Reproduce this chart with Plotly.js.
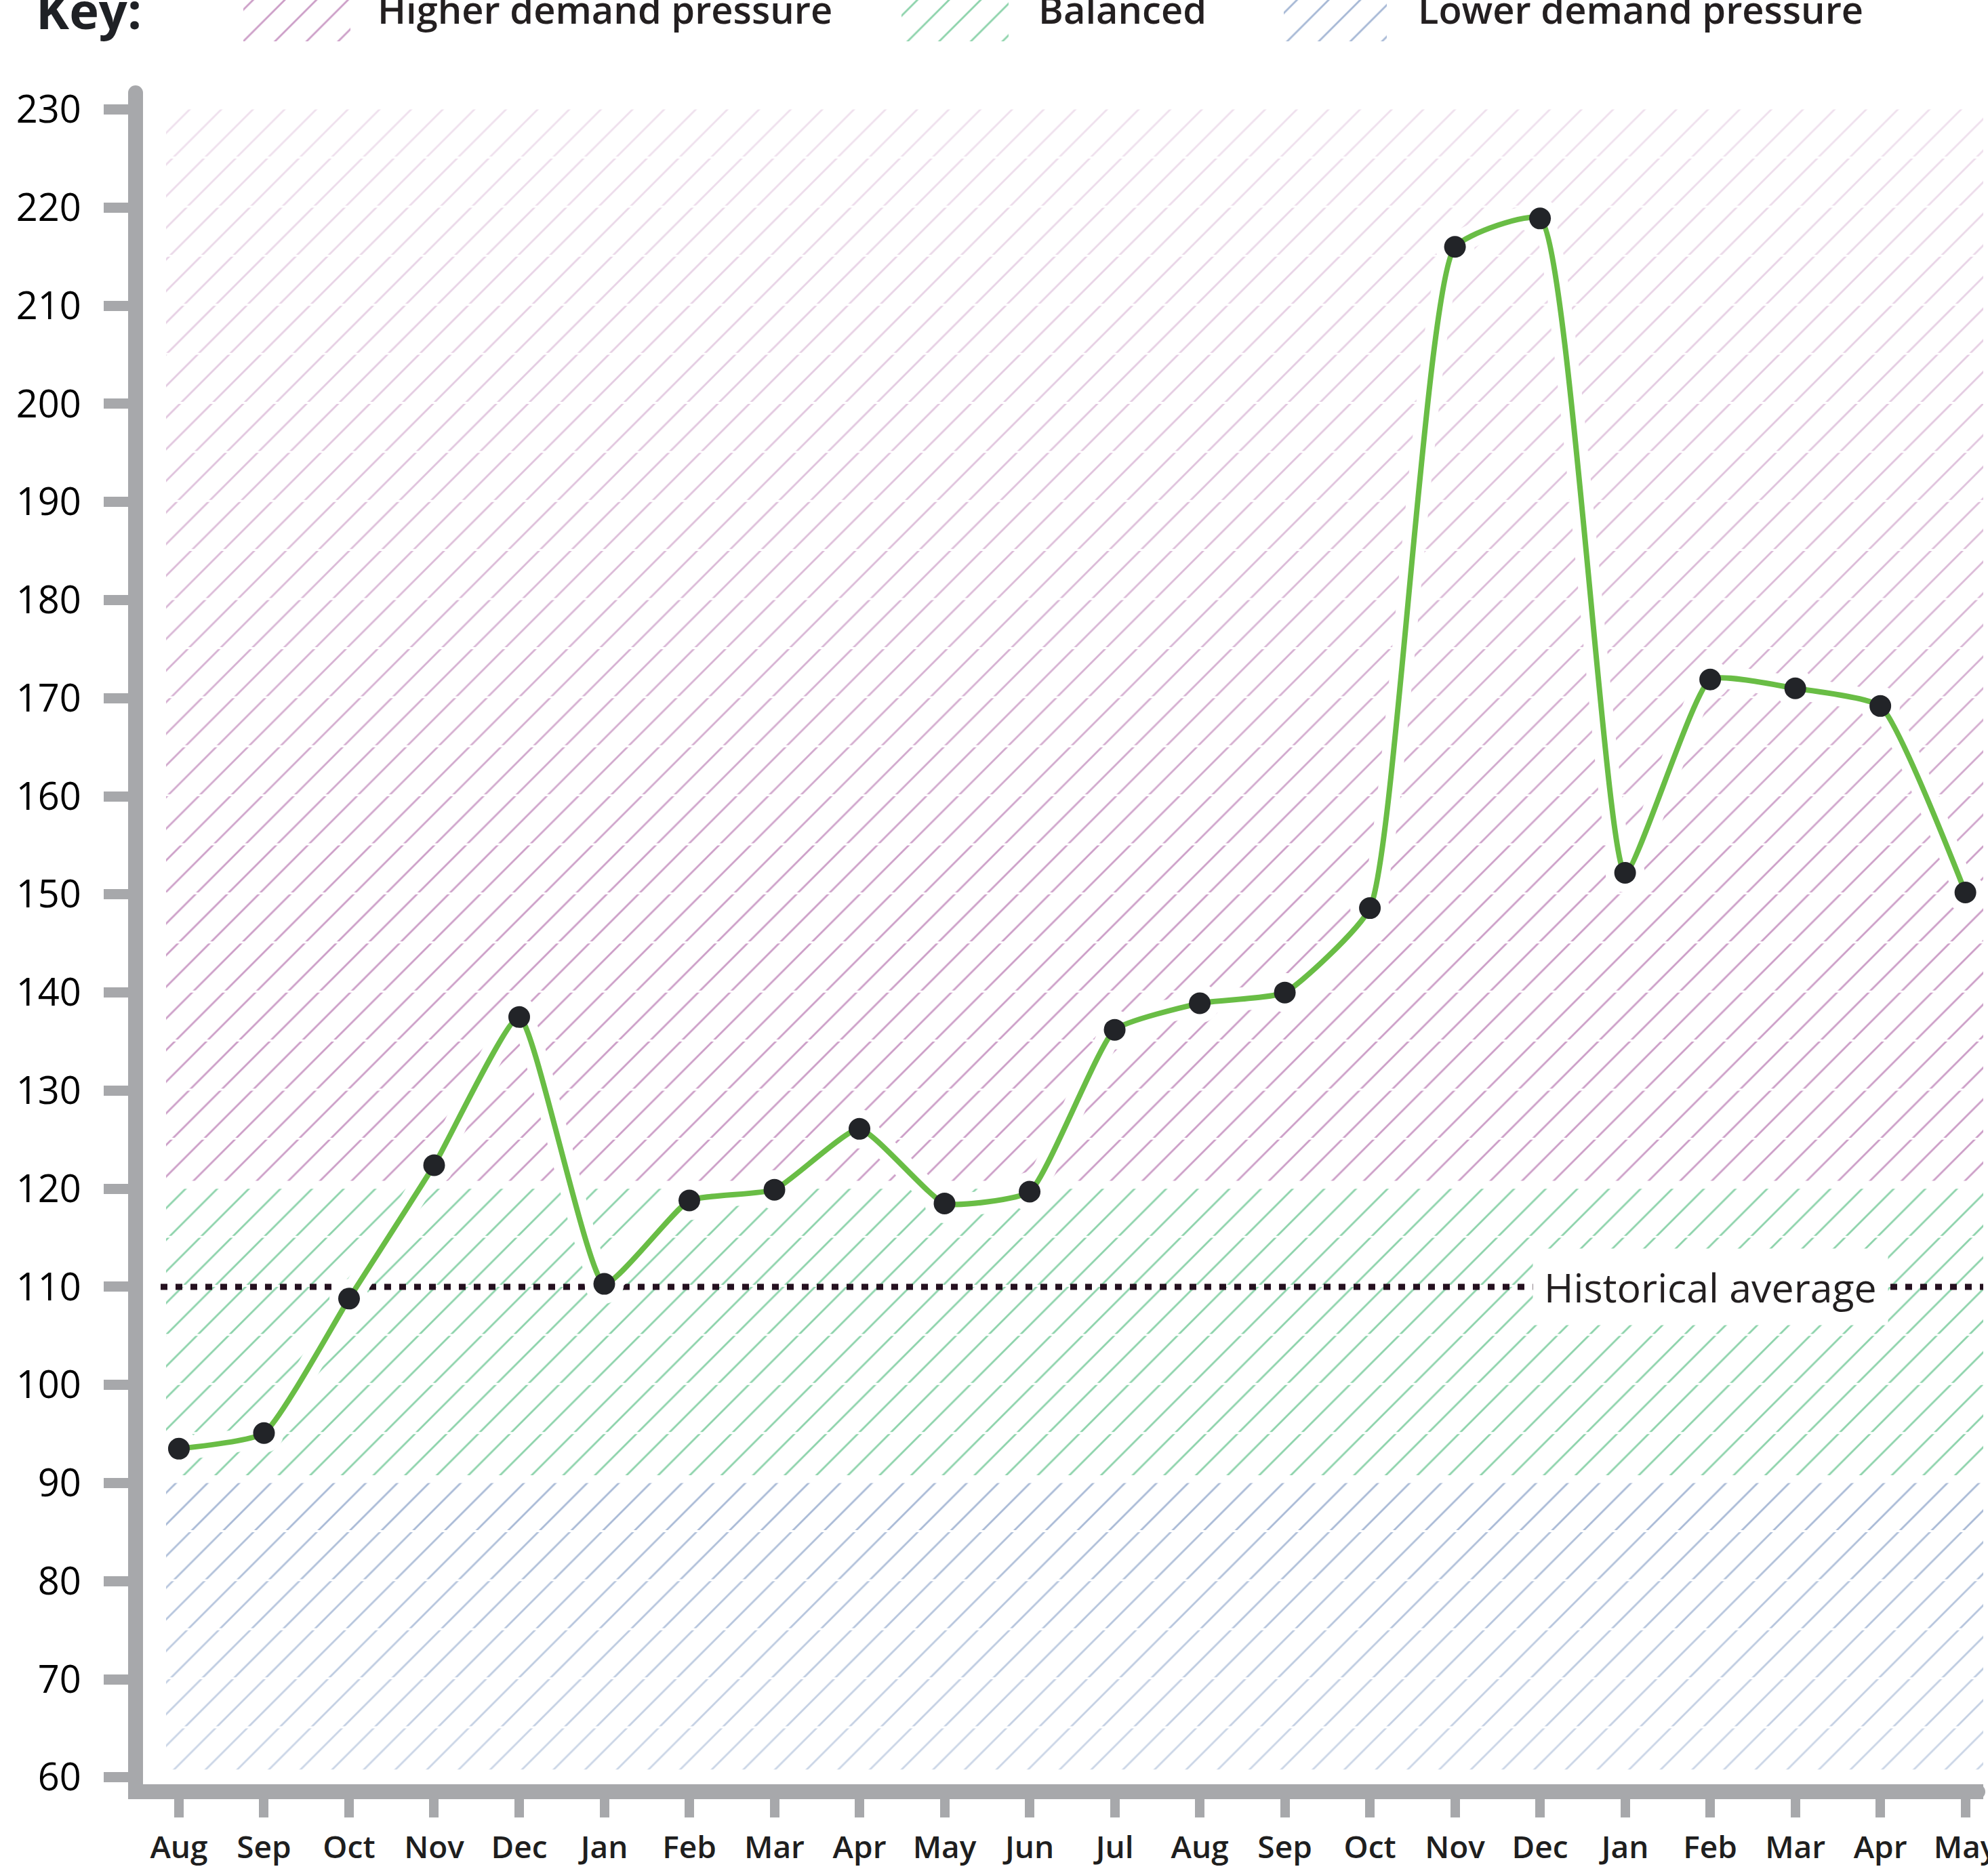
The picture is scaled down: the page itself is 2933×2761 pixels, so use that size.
<!DOCTYPE html>
<html>
<head>
<meta charset="utf-8">
<script src="https://cdn.plot.ly/plotly-3.0.1.min.js"></script>
<style>html,body{margin:0;padding:0;background:#fff;}</style>
</head>
<body>
<div id="chart" style="width:2933px;height:2761px;"></div>
<script>
// ---------- data ----------
const months = ['Aug','Sep','Oct','Nov','Dec','Jan','Feb','Mar','Apr','May','Jun','Jul','Aug','Sep','Oct','Nov','Dec','Jan','Feb','Mar','Apr','May'];
const values = [93.5,95.1,108.8,122.4,137.5,110.3,118.8,119.9,126.1,118.5,119.7,136.2,138.9,140.0,148.6,216.0,218.9,152.2,171.9,171.0,169.2,150.2];
const yTickValues = [60,70,80,90,100,110,120,130,140,150,160,170,180,190,200,210,220,230];
const bandNames = ['Higher demand pressure','Balanced','Lower demand pressure'];
const bandTops = [230,120,90];
const bandBottoms = [120,90,60];
const historicalAverage = 110;
const averageLabel = 'Historical average';
const keyTitle = 'Key:';

// ---------- style ----------
const W = 2933, H = 2761;
const FONT = '"Open Sans", "Noto Sans", sans-serif';
const AXIS_GREY = '#a7a8ab';
const bandColors = ['#cc9ec7','#8dd3ab','#a6b8d5'];
const LINE_GREEN = '#69bd45';
const MARKER_DARK = '#222428';
const TEXT_DARK = '#231f20';
const PATTERN_SIZE = 33, PATTERN_SOLIDITY = 0.085;
const TILE = 5, SEAM = 0.2, BAND_GAP = 0.8;
const xRange = [-0.422, 21.21];
const yRange = [59.3, 231.7];
const hatchX0 = -0.151, avgX0 = -0.215;
const SMOOTH = 0.45;

function bandOpacity(b, v) {
  if (b === 0) return Math.max(0.3, Math.min(1, 0.3 + 0.7 * (230 - v) / 80));
  if (b === 2) return 0.55 + 0.45 * (v - 60) / 30;
  return 1;
}

const xIdx = months.map((_, i) => i);
const traces = [];

// hatched bands, drawn in 5-unit tiles
bandNames.forEach((name, b) => {
  const top = bandTops[b], bottom = bandBottoms[b] + BAND_GAP;
  for (let t = top; t > bottom + 0.01; t -= TILE) {
    const lo = Math.max(bottom, t - TILE + SEAM);
    traces.push({
      type: 'scatter', mode: 'none', xaxis: 'x', yaxis: 'y',
      x: [hatchX0, xRange[1], xRange[1], hatchX0, hatchX0],
      y: [lo, lo, t, t, lo],
      fill: 'toself', fillcolor: 'rgba(0,0,0,0)',
      fillpattern: {shape: '/', fgcolor: bandColors[b], bgcolor: 'rgba(0,0,0,0)',
        size: PATTERN_SIZE, solidity: PATTERN_SOLIDITY, fgopacity: bandOpacity(b, (t + lo) / 2)},
      hoverinfo: 'skip', showlegend: false
    });
  }
});

// historical average dotted line
traces.push({
  type: 'scatter', mode: 'lines', xaxis: 'x', yaxis: 'y',
  x: [avgX0, xRange[1]], y: [historicalAverage, historicalAverage],
  line: {color: '#24101f', width: 9, dash: '10px,12px'},
  hoverinfo: 'skip', showlegend: false
});

// white halo under series
traces.push({
  type: 'scatter', mode: 'lines+markers', xaxis: 'x', yaxis: 'y',
  x: xIdx, y: values,
  line: {color: '#ffffff', width: 34, shape: 'spline', smoothing: SMOOTH},
  marker: {color: '#ffffff', size: 58},
  cliponaxis: false, hoverinfo: 'skip', showlegend: false
});
// series
traces.push({
  type: 'scatter', mode: 'lines+markers', xaxis: 'x', yaxis: 'y',
  x: xIdx, y: values,
  line: {color: LINE_GREEN, width: 8, shape: 'spline', smoothing: SMOOTH},
  marker: {color: MARKER_DARK, size: 32},
  cliponaxis: false, hoverinfo: 'skip', showlegend: false
});

// key swatches (pixel overlay axes)
const swatchX = [[359,517],[1330,1488],[1894,2046]];
const swatchY = [-40, 61];
bandNames.forEach((name, b) => {
  const [a, c] = swatchX[b];
  traces.push({
    type: 'scatter', mode: 'none', xaxis: 'x2', yaxis: 'y2',
    x: [a, c, c, a, a], y: [swatchY[0], swatchY[0], swatchY[1], swatchY[1], swatchY[0]],
    fill: 'toself', fillcolor: 'rgba(0,0,0,0)',
    fillpattern: {shape: '/', fgcolor: bandColors[b], bgcolor: 'rgba(0,0,0,0)',
      size: PATTERN_SIZE, solidity: PATTERN_SOLIDITY},
    hoverinfo: 'skip', showlegend: false
  });
});

// rounded ends of the thick axis lines
traces.push({
  type: 'scatter', mode: 'markers', xaxis: 'x2', yaxis: 'y2',
  x: [200, 2918], y: [137, 2644],
  marker: {color: AXIS_GREY, size: 22, line: {width: 0}},
  cliponaxis: false, hoverinfo: 'skip', showlegend: false
});

const keyTextX = [555, 1530, 2090];
const annotations = [
  {xref: 'x2', yref: 'y2', x: 51, y: 14, xanchor: 'left', yanchor: 'middle', showarrow: false,
   text: '<b>' + keyTitle + '</b>', font: {family: FONT, size: 74, color: '#1f2125'}},
  ...bandNames.map((n, b) => ({xref: 'x2', yref: 'y2', x: keyTextX[b], y: 13, xanchor: 'left', yanchor: 'middle',
   showarrow: false, text: n, font: {family: FONT, size: 56, weight: 600, color: TEXT_DARK}})),
  {xref: 'x', yref: 'y', x: 18, y: historicalAverage, xanchor: 'center', yanchor: 'middle', showarrow: false,
   text: averageLabel, bgcolor: '#ffffff', borderpad: 16, font: {family: FONT, size: 59, color: TEXT_DARK}}
];

const layout = {
  width: W, height: H,
  margin: {l: 0, r: 0, t: 0, b: 0},
  paper_bgcolor: '#ffffff', plot_bgcolor: 'rgba(0,0,0,0)',
  showlegend: false,
  font: {family: FONT},
  xaxis: {
    domain: [211 / W, 2926 / W], anchor: 'y', range: xRange,
    tickmode: 'array', tickvals: xIdx, ticktext: months,
    showgrid: false, zeroline: false,
    showline: true, linecolor: AXIS_GREY, linewidth: 22,
    ticks: 'outside', ticklen: 27, tickwidth: 14, tickcolor: AXIS_GREY,
    ticklabelstandoff: 5, ticklabeloverflow: 'allow',
    tickfont: {family: FONT, size: 46, weight: 600, color: '#1e1e1e'}, fixedrange: true
  },
  yaxis: {
    domain: [1 - 2633 / H, 1 - 137 / H], anchor: 'x', range: yRange,
    tickmode: 'array', tickvals: yTickValues,
    showgrid: false, zeroline: false,
    showline: true, linecolor: AXIS_GREY, linewidth: 22,
    ticks: 'outside', ticklen: 36, tickwidth: 15, tickcolor: AXIS_GREY,
    ticklabelstandoff: 22, ticklabeloverflow: 'allow',
    tickfont: {family: FONT, size: 56, color: '#000000'}, fixedrange: true
  },
  xaxis2: {domain: [0, 1], anchor: 'y2', range: [0, W], visible: false, fixedrange: true},
  yaxis2: {domain: [0, 1], anchor: 'x2', range: [H, 0], visible: false, fixedrange: true},
  annotations: annotations
};

Plotly.newPlot('chart', traces, layout, {staticPlot: true, displayModeBar: false});
</script>
</body>
</html>
